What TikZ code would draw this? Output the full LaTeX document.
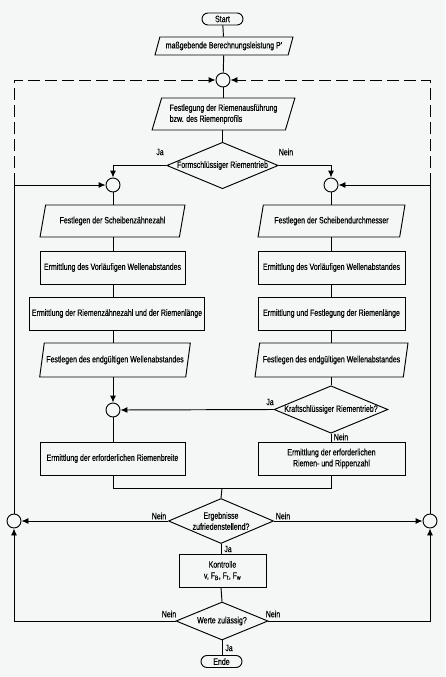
\documentclass[tikz,border=0pt]{standalone}
\usepackage{fontspec}
\setmainfont{Liberation Sans}[FakeStretch=0.76,FakeBold=0.4]
\usetikzlibrary{shapes.geometric,arrows.meta}
\definecolor{paper}{RGB}{245,247,247}
\begin{document}
\begin{tikzpicture}[x=1pt,y=-1pt,line width=0.95pt,
  font=\fontsize{9.2}{11}\selectfont,
  box/.style={draw,rectangle,inner sep=2pt,align=center},
  para/.style={draw,trapezium,trapezium left angle=70,trapezium right angle=110,trapezium stretches=true,inner sep=2pt,align=left},
  dec/.style={draw,diamond,aspect=2.4,inner sep=0pt,align=center},
  term/.style={draw,rectangle,rounded corners=6pt,minimum width=41pt,minimum height=12pt,inner sep=0pt},
  junc/.style={draw,circle,minimum size=14pt,inner sep=0pt},
  arr/.style={-{Latex[length=7pt,width=6pt]}},
  dsh/.style={dash pattern=on 12pt off 5pt},
  lbl/.style={inner sep=1pt}]
\fill[paper] (0,0) rectangle (445,677);
\useasboundingbox (0,0) rectangle (445,677);
% nodes
\node[term] (start) at (222.5,19) {Start};
\node[para,minimum width=138pt,minimum height=18pt] (p) at (224,46) {maßgebende Berechnungsleistung P'};
\node[junc] (ct) at (223,80) {};
\node[para,minimum width=143pt,minimum height=32pt] (fr) at (223.5,114) {Festlegung der Riemenausführung\\bzw. des Riemenprofils};
\node[dec,minimum width=109pt,minimum height=46pt] (d1) at (222.5,165.5) {Formschlüssiger Riementrieb};
\node[junc] (cl) at (113,185) {};
\node[junc] (cr) at (331,185) {};
% left column
\node[para,minimum width=145pt,minimum height=32pt] (l1) at (112.5,221) {Festlegen der Scheibenzähnezahl};
\node[box,minimum width=145pt,minimum height=33pt] (l2) at (112.5,267.5) {Ermittlung des Vorläufigen Wellenabstandes};
\node[box,minimum width=172pt,minimum height=33pt] (l3) at (117,313.5) {Ermittlung der Riemenzähnezahl und der Riemenlänge};
\node[para,minimum width=150pt,minimum height=34pt] (l4) at (115,360) {Festlegen des endgültigen Wellenabstandes};
\node[junc] (cm) at (113,410) {};
\node[box,minimum width=145pt,minimum height=33pt] (l5) at (112.5,458.5) {Ermittlung der erforderlichen Riemenbreite};
% right column
\node[para,minimum width=147pt,minimum height=32pt] (r1) at (331.5,221) {Festlegen der Scheibendurchmesser};
\node[box,minimum width=147pt,minimum height=33pt] (r2) at (331.5,267.5) {Ermittlung des Vorläufigen Wellenabstandes};
\node[box,minimum width=147pt,minimum height=33pt] (r3) at (331.5,313.5) {Ermittlung und Festlegung der Riemenlänge};
\node[para,minimum width=153pt,minimum height=34pt] (r4) at (331.5,360) {Festlegen des endgültigen Wellenabstandes};
\node[dec,minimum width=112pt,minimum height=45pt] (d2) at (331,409.5) {Kraftschlüssiger Riementrieb?};
\node[box,minimum width=147pt,minimum height=33pt] (r5) at (331.5,458.5) {Ermittlung der erforderlichen\\Riemen- und Rippenzahl};
% bottom
\coordinate (m) at (222,488);
\node[dec,minimum width=105pt,minimum height=45pt] (d3) at (221,521) {Ergebnisse\\zufriedenstellend?};
\node[junc] (cbl) at (14,521) {};
\node[junc] (cbr) at (430,521) {};
\node[box,minimum width=87pt,minimum height=33pt] (k) at (222.5,570.5) {Kontrolle\\v, F\textsubscript{B}, F\textsubscript{t}, F\textsubscript{w}};
\node[dec,minimum width=92pt,minimum height=38pt] (d4) at (222,621) {Werte zulässig?};
\node[term] (ende) at (221.5,661.5) {Ende};
\coordinate (jl) at (14,185);
\coordinate (jr) at (430,185);
% labels
\node[lbl] (ja1) at (160,152) {Ja};
\node[lbl] (ne1) at (286,152) {Nein};
\node[lbl] (ja2) at (270,402) {Ja};
\node[lbl] (ne2) at (341,437) {Nein};
\node[lbl] (ne3) at (159,516) {Nein};
\node[lbl] (ne4) at (283,516) {Nein};
\node[lbl] (ja3) at (228,549) {Ja};
\node[lbl] (ne5) at (169,614) {Nein};
\node[lbl] (ne6) at (273,614) {Nein};
\node[lbl] (ja4) at (229,648) {Ja};
% connectors
\draw (start) -- (p);
\draw (p) -- (ct);
\draw (ct) -- (fr.north -| ct);
\draw (fr.south -| d1.north) -- (d1.north);
\draw[arr] (d1.west) -| (cl.north);
\draw[arr] (d1.east) -| (cr.north);
\draw (cl.south) -- (cl.south |- l1.north);
\draw (cl.south |- l1.south) -- (cl.south |- l2.north);
\draw (cl.south |- l2.south) -- (cl.south |- l3.north);
\draw (cl.south |- l3.south) -- (cl.south |- l4.north);
\draw[arr] (cl.south |- l4.south) -- (cm.north);
\draw (cm.south) -- (cm.south |- l5.north);
\draw (cr.south) -- (cr.south |- r1.north);
\draw (cr.south |- r1.south) -- (cr.south |- r2.north);
\draw (cr.south |- r2.south) -- (cr.south |- r3.north);
\draw (cr.south |- r3.south) -- (cr.south |- r4.north);
\draw (cr.south |- r4.south) -- (d2.north);
\draw (d2.south) -- (d2.south |- r5.north);
\draw[arr] (d2.west) -- (cm.east);
\draw (cm.south |- l5.south) |- (m);
\draw (cr.south |- r5.south) |- (m);
\draw (m) -- (d3.north);
\draw[arr] (d3.west) -- (cbl.east);
\draw[arr] (d3.east) -- (cbr.west);
\draw (d3.south) -- (d3.south |- k.north);
\draw (d3.south |- k.south) -- (d4.north);
\draw (d4.south) -- (ende.north -| d4.south);
\draw[arr] (d4.west) -| (cbl.south);
\draw[arr] (d4.east) -| (cbr.south);
\draw (cbl.north) -- (jl);
\draw (cbr.north) -- (jr);
\draw[arr] (jl) -- (cl.west);
\draw[arr] (jr) -- (cr.east);
\draw[arr,dsh] (jl) |- (ct.west);
\draw[arr,dsh] (jr) |- (ct.east);
\end{tikzpicture}
\end{document}
